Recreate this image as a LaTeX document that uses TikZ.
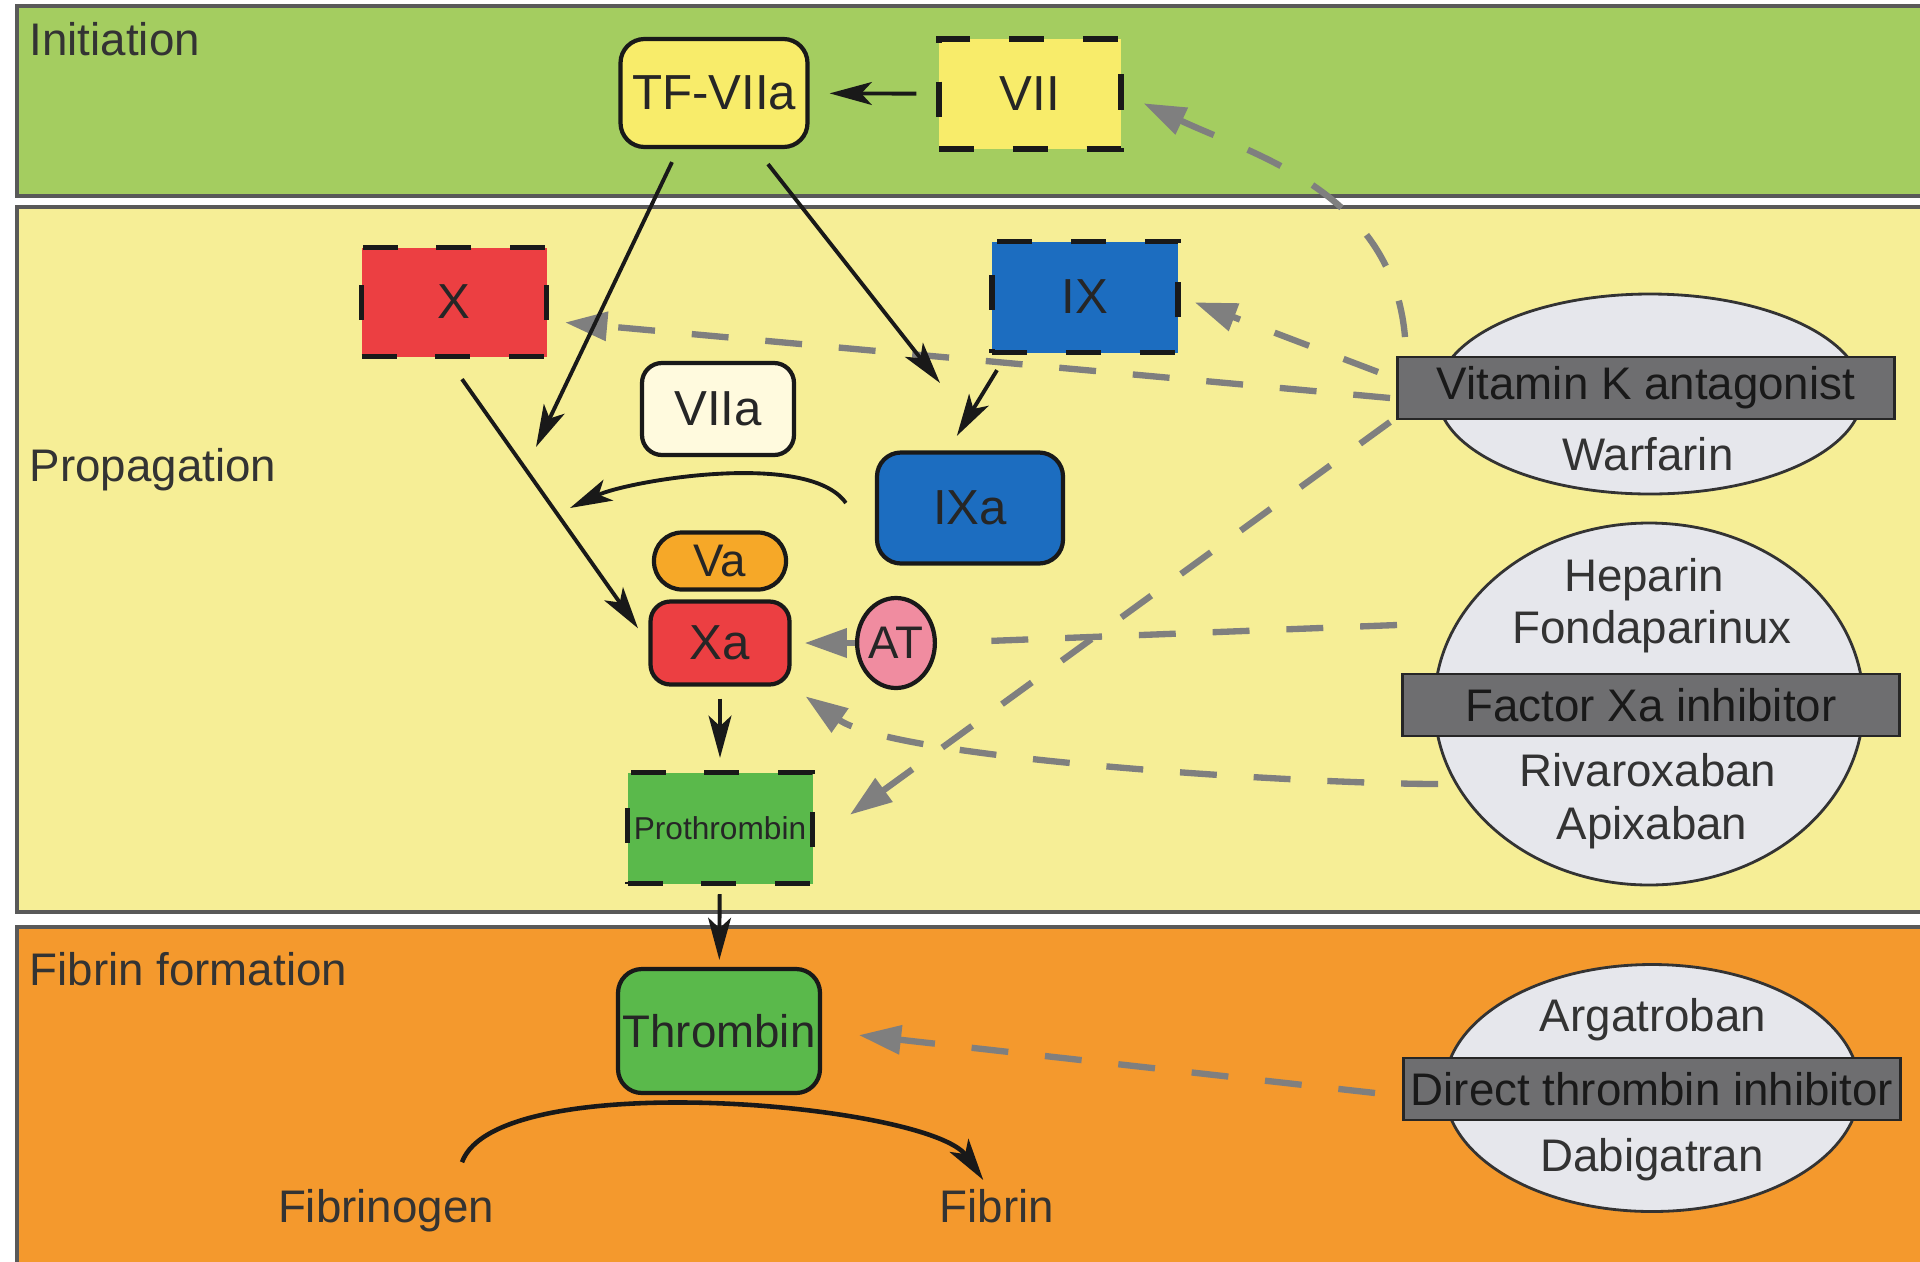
\documentclass[tikz,border=0pt]{standalone}
\usepackage{fontspec}
\setmainfont{Liberation Sans}
\usetikzlibrary{positioning,shapes.geometric,arrows.meta}

\definecolor{initgreen}{HTML}{A4CD60}
\definecolor{propyellow}{HTML}{F6EE96}
\definecolor{fibrorange}{HTML}{F4992D}
\definecolor{tfyellow}{HTML}{F8EC6A}
\definecolor{fred}{HTML}{EC3F42}
\definecolor{fblue}{HTML}{1C6DC0}
\definecolor{fcream}{HTML}{FFFADE}
\definecolor{forange}{HTML}{F6A828}
\definecolor{fpink}{HTML}{F08CA0}
\definecolor{fgreen}{HTML}{5AB94B}
\definecolor{ovalgray}{HTML}{E6E7EC}
\definecolor{bandgray}{HTML}{6E6E70}
\definecolor{inhibgray}{HTML}{7F7F7F}

\newcommand\facfont{\fontsize{14}{16}\selectfont}
\newcommand\midfacfont{\fontsize{13}{15}\selectfont}
\newcommand\tinyfacfont{\fontsize{9}{10}\selectfont}
\newcommand\drugfont{\fontsize{13}{15}\selectfont}

\begin{document}
\begin{tikzpicture}[
  panel/.style={draw=black!65, line width=1pt},
  factor/.style={draw=black!90, line width=1.2pt, rounded corners=0.24cm, inner sep=0pt, font=\facfont, text=black!85},
  zymogen/.style={draw=black!90, line width=1.5pt, dash pattern=on 10pt off 11pt, inner sep=0pt, font=\facfont, text=black!85},
  drugoval/.style={ellipse, draw=black!80, line width=0.8pt, fill=ovalgray, inner sep=0pt},
  drugband/.style={draw=black!85, line width=0.8pt, fill=bandgray, minimum width=4.97cm, minimum height=0.62cm, inner sep=0pt, font=\drugfont, text=black!90},
  drugtxt/.style={font=\drugfont, text=black!80, inner sep=0pt},
  act/.style={draw=black!90, line width=1.1pt, -{Stealth[length=12pt,width=6.5pt,inset=3pt]}},
  inhib/.style={draw=inhibgray, line width=1.8pt, dash pattern=on 10.5pt off 10.5pt, -{Triangle[length=12pt,width=8pt]}}
]
\useasboundingbox (0,0) rectangle (19.2,-12.61);

\def\xl{0.17}
\def\xr{19.25}
\def\xmid{7.20}

\fill[white] (0,0) rectangle (19.2,-12.61);
\filldraw[panel, fill=initgreen] (\xl,-0.06) rectangle (\xr,-1.96);
\filldraw[panel, fill=propyellow] (\xl,-2.07) rectangle (\xr,-9.12);
\filldraw[panel, fill=fibrorange] (\xl,-9.27) rectangle (\xr,-12.8);

\node[drugtxt, anchor=base west] (initlbl) at (0.29,-0.55) {Initiation};
\node[drugtxt, anchor=base west] (proplbl) at (0.29,-4.81) {Propagation};
\node[drugtxt, anchor=base west] (fibrlbl) at (0.29,-9.85) {Fibrin formation};

\node[factor, fill=tfyellow, minimum width=1.87cm, minimum height=1.08cm] (tf7a) at (7.14,-0.93) {TF-VIIa};
\node[zymogen, fill=tfyellow, minimum width=1.82cm, minimum height=1.10cm] (f7) at (10.30,-0.94) {VII};
\node[zymogen, fill=fred, minimum width=1.85cm, minimum height=1.09cm] (f10) at (4.54,-3.02) {X};
\node[zymogen, fill=fblue, minimum width=1.86cm, minimum height=1.11cm] (f9) at (10.85,-2.97) {IX};
\node[factor, fill=fcream, rounded corners=0.2cm, minimum width=1.52cm, minimum height=0.92cm] (f7a) at (7.18,-4.09) {VIIa};
\node[factor, fill=fblue, minimum width=1.86cm, minimum height=1.11cm] (f9a) at (9.70,-5.08) {IXa};
\node[factor, fill=forange, font=\midfacfont, rounded corners=0.28cm, minimum width=1.32cm, minimum height=0.57cm] (f5a) at (\xmid,-5.61) {Va};
\node[factor, fill=fred, rounded corners=0.2cm, minimum width=1.39cm, minimum height=0.83cm] (f10a) at (\xmid,-6.43) {Xa};
\node[ellipse, draw=black!90, line width=1.2pt, fill=fpink, inner sep=0pt, font=\midfacfont, text=black!85, minimum width=0.68cm, minimum height=0.90cm] (antithr) at (8.96,-6.43) {AT};
\node[zymogen, fill=fgreen, font=\tinyfacfont, minimum width=1.85cm, minimum height=1.11cm] (prothr) at (\xmid,-8.28) {Prothrombin};
\node[factor, fill=fgreen, font=\midfacfont, minimum width=2.02cm, minimum height=1.24cm] (thromb) at (7.19,-10.31) {Thrombin};
\node[drugtxt, anchor=base] (fgen) at (3.86,-12.22) {Fibrinogen};
\node[drugtxt, anchor=base] (fib) at (9.97,-12.22) {Fibrin};

\node[drugoval, minimum width=4.25cm, minimum height=2.00cm] (vkaoval) at (16.50,-3.94) {};
\node[drugband] (vkaband) at (16.46,-3.88) {Vitamin K antagonist};
\node[drugtxt] (warf) at (16.48,-4.54) {Warfarin};

\node[drugoval, minimum width=4.29cm, minimum height=3.62cm] (fxaoval) at (16.49,-7.04) {};
\node[drugband] (fxaband) at (16.51,-7.05) {Factor Xa inhibitor};
\node[drugtxt] (hep) at (16.44,-5.80) {Heparin};
\node[drugtxt] (fonda) at (16.52,-6.32) {Fondaparinux};
\node[drugtxt] (rivar) at (16.48,-7.70) {Rivaroxaban};
\node[drugtxt] (apix) at (16.52,-8.28) {Apixaban};

\node[drugoval, minimum width=4.15cm, minimum height=2.47cm] (dtioval) at (16.52,-10.88) {};
\node[drugband] (dtiband) at (16.52,-10.89) {Direct thrombin inhibitor};
\node[drugtxt] (argat) at (16.53,-10.20) {Argatroban};
\node[drugtxt] (dabig) at (16.52,-11.60) {Dabigatran};

\coordinate (xconva) at (5.36,-4.47);
\coordinate (xconvb) at (5.70,-5.08);
\coordinate (ixconv) at (9.40,-3.83);
\coordinate (vkaa) at (14.05,-3.37);
\coordinate (vkab) at (13.78,-3.72);
\coordinate (vkac) at (13.90,-3.98);
\coordinate (vkad) at (13.90,-4.22);
\coordinate (fxaa) at (13.97,-6.25);
\coordinate (fxab) at (14.38,-7.84);
\coordinate (dtia) at (13.75,-10.93);

\draw[inhib, shorten >=0.22cm] (vkaa) to[out=95, in=-25] (f7.east);
\draw[inhib, shorten >=0.15cm] (vkab) -- (f9.east);
\draw[inhib, shorten >=0.16cm] (vkac) -- ([yshift=-0.19cm]f10.east);
\draw[inhib, shorten >=0.43cm] (vkad) -- ([yshift=-0.12cm]prothr.east);
\draw[inhib, -, shorten >=0.4cm] (fxaa) -- (antithr.east);
\draw[inhib, solid, shorten >=0.13cm] (antithr) -- (f10a);
\draw[inhib, shorten >=0.17cm] (fxab) to[out=180, in=-35, looseness=0.5] (f10a.south east);
\draw[inhib, shorten >=0.37cm] (dtia) -- (thromb.east);

\draw[act, shorten <=0.2cm, shorten >=0.2cm] (f7) -- (tf7a);
\draw[act] ([xshift=-0.42cm,yshift=-0.13cm]tf7a.south) -- (xconva);
\draw[act] ([xshift=0.54cm,yshift=-0.15cm]tf7a.south) -- (ixconv);
\draw[act, shorten >=0.17cm] ([xshift=-0.88cm,yshift=-0.15cm]f9.south) -- ([xshift=-0.22cm]f9a.north);
\draw[act] ([xshift=-0.29cm,yshift=0.05cm]f9a.west) to[out=125, in=25, looseness=0.6] (xconvb);
\draw[act, shorten >=0.18cm] ([xshift=0.08cm,yshift=-0.2cm]f10.south) -- (f10a.west);
\draw[act, shorten <=0.12cm, shorten >=0.12cm] (f10a) -- (prothr);
\draw[act, shorten <=0.08cm, shorten >=0.07cm] (prothr) -- (thromb);
\draw[act, line width=1.3pt, shorten >=0.1cm] ([xshift=0.76cm,yshift=0.26cm]fgen.north) to[out=70, in=125, looseness=0.5] ([xshift=-0.08cm]fib.north);
\end{tikzpicture}
\end{document}
